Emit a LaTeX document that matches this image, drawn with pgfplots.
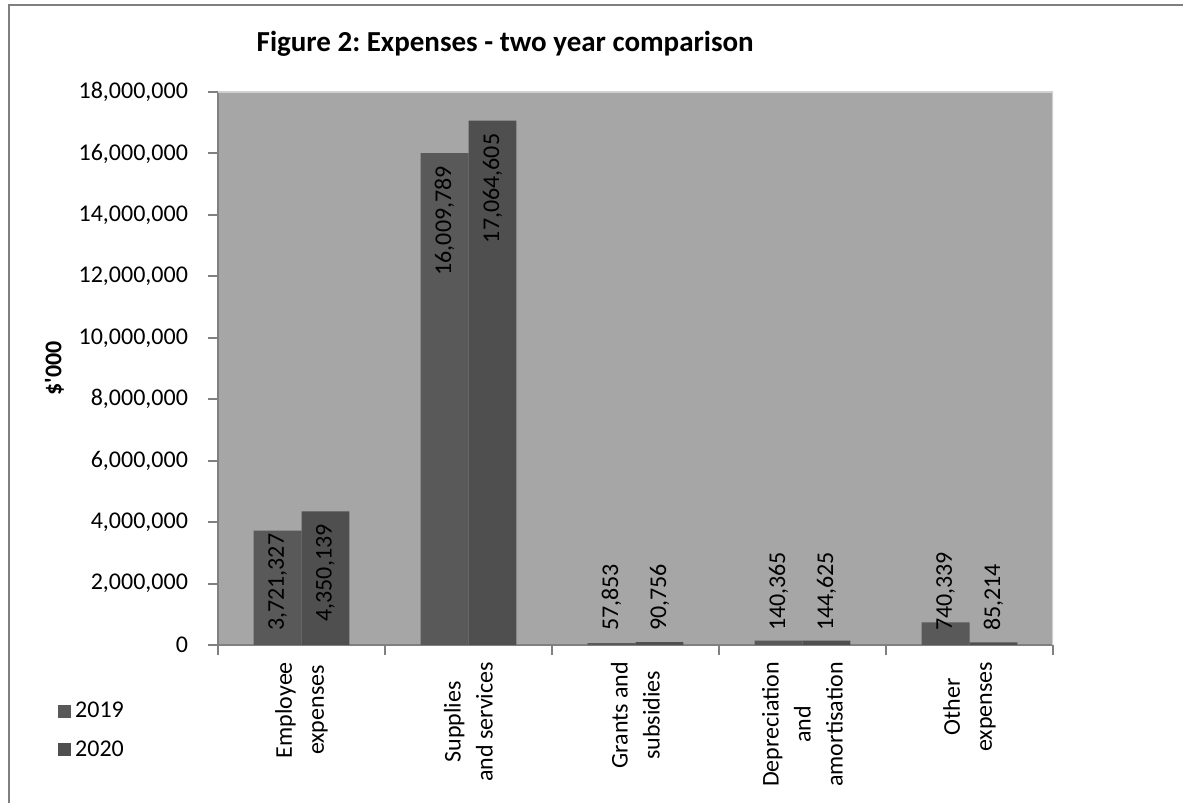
\documentclass[border=0pt]{standalone}
\usepackage{pgfplots}
\pgfplotsset{compat=1.18}
\usepackage{fontspec}
\setmainfont{Carlito}
\frenchspacing
\definecolor{bgc}{HTML}{A6A6A6}
\definecolor{c19}{HTML}{595959}
\definecolor{c20}{HTML}{4F4F4F}
\definecolor{axc}{HTML}{808080}
\definecolor{framec}{HTML}{7F7F7F}
\pgfplotsset{
  baselbl/.style={draw=none, fill=none, forget plot, nodes near coords,
    nodes near coords style={shift={(axis direction cs:0,-\rawy)}, yshift=3.5pt, rotate=90, anchor=west, black, font=\fontsize{12}{14}\selectfont}},
  toplbl/.style={draw=none, fill=none, forget plot, nodes near coords,
    nodes near coords style={yshift=-3pt, rotate=90, anchor=east, black, font=\fontsize{12}{14}\selectfont}},
}
\begin{document}
\begin{tikzpicture}
\path[use as bounding box] (0,0) rectangle (591.5pt,401.5pt);
\draw[framec, line width=1pt] (4.5pt,0) -- (4.5pt,398.75pt) -- (591.5pt,398.75pt);
\begin{axis}[
    at={(109pt,79pt)}, anchor=south west,
    scale only axis, width=417.5pt, height=276.5pt,
    font=\fontsize{12}{16}\selectfont,
    /pgf/number format/assume math mode=true,
    ybar, bar width=0.287,
    xmin=-0.5, xmax=4.5, ymin=0, ymax=18000000,
    ytick={0,2000000,...,18000000},
    scaled y ticks=false,
    yticklabel style={/pgf/number format/.cd, fixed, 1000 sep={,}, /tikz/.cd, xshift=-6.5pt},
    xtick={0,1,2,3,4},
    xticklabels={Employee\\expenses, Supplies\\and services, Grants and\\subsidies, Depreciation\\and\\amortisation, Other\\expenses},
    xticklabel style={rotate=90, anchor=east, align=center},
    minor xtick={-0.5,0.5,...,4.5},
    every major x tick/.append style={draw=none},
    tick align=outside, major tick length=5pt, minor tick length=5pt,
    tick style={axc, line width=1pt},
    axis x line*=bottom, axis y line*=left,
    axis line style={axc, line width=1pt, -},
    axis background/.style={fill=bgc},
    ylabel={\bfseries \$\textquotesingle 000},
    ylabel style={at={(axis description cs:-0.196,0.5)}, anchor=center},
    title={Figure 2: Expenses - two year comparison},
    title style={at={(axis description cs:0.344,1.065)}, anchor=center, font=\bfseries\fontsize{14.5}{17}\selectfont},
    point meta=explicit symbolic,
    visualization depends on=y \as \rawy,
    legend style={at={(axis description cs:-0.199,-0.088)}, anchor=north west, draw=none, fill=none, row sep=6pt, font=\fontsize{12}{14}\selectfont},
    legend cell align=left,
    legend image code/.code={\fill[#1] (0pt,-3.25pt) rectangle (6.5pt,3.25pt);},
  ]
% bars
\addplot[fill=c19, draw=none, bar shift=-0.1435] coordinates {
  (0,3721327) (1,16009789) (2,57853) (3,140365) (4,740339)
};
\addplot[fill=c20, draw=none, bar shift=0.1435] coordinates {
  (0,4350139) (1,17064605) (2,90756) (3,144625) (4,85214)
};
\legend{2019,2020}
% data labels, 2019
\addplot[baselbl, bar shift=-0.1435] coordinates {
  (0,3721327) [3,721,327]
  (2,57853) [57,853]
  (3,140365) [140,365]
  (4,740339) [740,339]
};
\addplot[toplbl, bar shift=-0.1435] coordinates {
  (1,16009789) [16,009,789]
};
% data labels, 2020
\addplot[baselbl, bar shift=0.1435] coordinates {
  (2,90756) [90,756]
  (3,144625) [144,625]
  (4,85214) [85,214]
};
\addplot[toplbl, bar shift=0.1435] coordinates {
  (0,4350139) [4,350,139]
  (1,17064605) [17,064,605]
};
% faint edge of the plot area
\draw[black!18, line width=0.6pt] (rel axis cs:0,1) -- (rel axis cs:1,1) -- (rel axis cs:1,0);
\end{axis}
\end{tikzpicture}
\end{document}
